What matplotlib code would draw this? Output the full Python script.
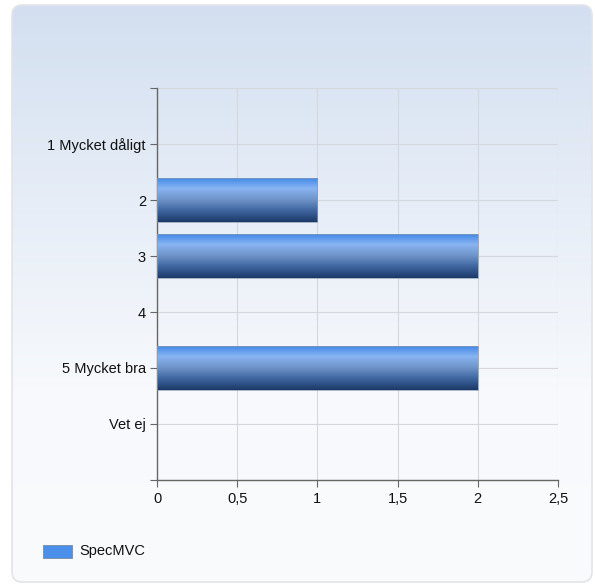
import numpy as np
import matplotlib
matplotlib.use('Agg')
import matplotlib.pyplot as plt
from matplotlib.patches import FancyBboxPatch, Rectangle
from matplotlib.colors import LinearSegmentedColormap

# data
categories = ['1 Mycket dåligt', '2', '3', '4', '5 Mycket bra', 'Vet ej']
values = [0, 1, 2, 0, 2, 0]
series_name = 'SpecMVC'
xticks = [0, 0.5, 1, 1.5, 2, 2.5]
xtick_labels = ['0', '0,5', '1', '1,5', '2', '2,5']

plt.rcParams['font.family'] = ['Liberation Sans', 'DejaVu Sans']
plt.rcParams['font.size'] = 10.5

fig = plt.figure(figsize=(5.95, 5.85), dpi=100)

# background panel with gradient and rounded border
bg = fig.add_axes([0, 0, 1, 1])
bg.set_xlim(0, 595)
bg.set_ylim(585, 0)
bg.axis('off')
grad = np.linspace(0, 1, 256).reshape(-1, 1)
bg_cmap = LinearSegmentedColormap.from_list('bg', ['#d3dff0', '#e6edf7', '#f7f9fc', '#fafbfd'])
panel = FancyBboxPatch((12, 5), 580, 577, boxstyle='round,pad=0,rounding_size=10',
                       facecolor='none', edgecolor='#e2e4e8', linewidth=1.2)
bg.add_patch(panel)
im = bg.imshow(grad, cmap=bg_cmap, extent=[12, 592, 582, 5], aspect='auto', zorder=0)
im.set_clip_path(panel)

# legend swatch
bg.add_patch(Rectangle((43, 545), 29, 13, facecolor='#4a8fea', edgecolor='#7a8aa0', lw=0.6))
bg.text(79, 551.5, series_name, va='center', ha='left', fontsize=10.5, color='#111111')

ax = fig.add_axes([157 / 595, 1 - 480 / 585, 401 / 595, 392 / 585])
ax.patch.set_alpha(0)
ypos = np.arange(len(categories))

bar_cmap = LinearSegmentedColormap.from_list(
    'bar', ['#3d86e8', '#8ab5f2', '#6e94c8', '#3f65a0', '#1c3a68'])
bar_grad = np.linspace(0, 1, 64).reshape(-1, 1)
bars = ax.barh(ypos, values, height=0.8, color='none', edgecolor='none', zorder=3)
for b in bars:
    w = b.get_width()
    if w <= 0:
        continue
    y0 = b.get_y()
    h = b.get_height()
    img = ax.imshow(bar_grad, cmap=bar_cmap, extent=[0, w, y0 + h, y0],
                    aspect='auto', zorder=3)
    img.set_clip_path(b)
    ax.add_patch(Rectangle((0, y0), w, h, facecolor='none', edgecolor='#8a9ab0', lw=0.5, zorder=4))
ax.set_xlim(0, 2.5)
ax.set_ylim(len(categories), -1)

ax.set_yticks(list(range(-1, len(categories) + 1)))
ax.set_yticklabels([''] + categories + [''])
ax.set_xticks(xticks)
ax.set_xticklabels(xtick_labels)
ax.grid(True, color='#d4d8de', linewidth=0.8, zorder=0)
ax.set_axisbelow(True)
for s in ['top', 'right']:
    ax.spines[s].set_visible(False)
for s in ['left', 'bottom']:
    ax.spines[s].set_color('#666666')
    ax.spines[s].set_linewidth(1.0)
ax.tick_params(axis='both', colors='#666666', labelcolor='#111111', length=5, labelsize=10.5)
ax.tick_params(axis='y', pad=3)

fig.savefig('out.png', dpi=100)
